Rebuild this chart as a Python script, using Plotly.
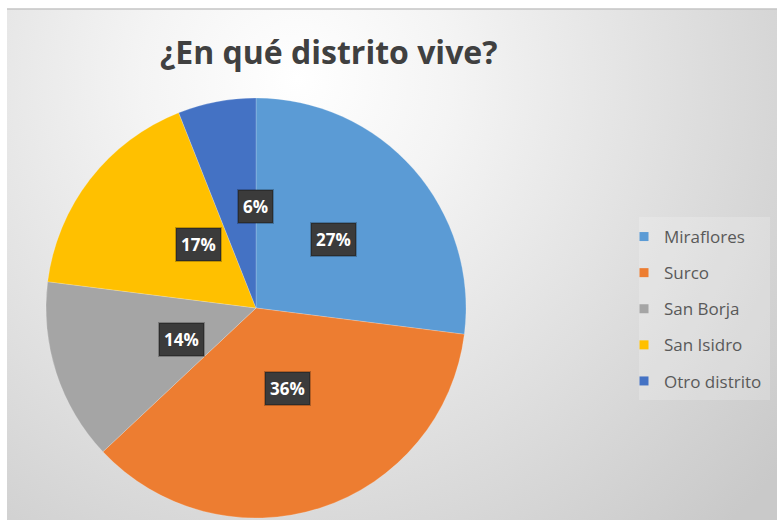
import math, base64
import plotly.graph_objects as go

categories = ["Miraflores", "Surco", "San Borja", "San Isidro", "Otro distrito"]
values = [27, 36, 14, 17, 6]
colors = ["#5B9BD5", "#ED7D31", "#A5A5A5", "#FFC000", "#4472C4"]
title_text = "¿En qué distrito vive?"

W, H = 777, 525
# pie placement (pixels)
PCX, PCY, PR = 256, 308, 210
dom_x = [(PCX - PR) / W, (PCX + PR) / W]
dom_y = [1 - (PCY + PR) / H, 1 - (PCY - PR) / H]

fig = go.Figure()
fig.add_trace(go.Pie(
    labels=categories, values=values, sort=False, direction="clockwise",
    rotation=0, marker=dict(colors=colors, line=dict(color="rgba(255,255,255,0.4)", width=0.5)),
    textinfo="none", showlegend=False, domain=dict(x=dom_x, y=dom_y),
    hovertemplate="%{label}: %{percent}<extra></extra>",
))

# legend via placeholder traces (spaced groups)
for cat, col in zip(categories, colors):
    fig.add_trace(go.Scatter(
        x=[None], y=[None], mode="markers", name=cat, legendgroup=cat,
        marker=dict(symbol="square", size=9, color=col), showlegend=True,
    ))

# percent labels in dark boxes, placed at slice mid-angles computed from data
total = sum(values)
cum = 0
annotations = []
for v in values:
    mid = (cum + v / 2) / total * 2 * math.pi
    cum += v
    px = PCX + 0.49 * PR * math.sin(mid)
    py = PCY - 0.49 * PR * math.cos(mid)
    pct = f"{round(v / total * 100)}%"
    annotations.append(dict(
        x=px / W, y=1 - py / H, xref="paper", yref="paper",
        text=f"<b>{pct}</b>", showarrow=False,
        font=dict(family="Open Sans", size=17, color="#ffffff"),
        bgcolor="#3b3b3b", bordercolor="rgba(0,0,0,0.25)", borderwidth=2, borderpad=4,
    ))

annotations.append(dict(
    x=329 / W, y=1 - 51 / H, xref="paper", yref="paper",
    text=f"<b>{title_text}</b>", showarrow=False,
    font=dict(family="Open Sans", size=32, color="#404040"),
    xanchor="center", yanchor="middle",
))

svg = (
    "<svg xmlns='http://www.w3.org/2000/svg' width='770' height='511'>"
    "<defs><radialGradient id='g' cx='290' cy='70' r='620' gradientUnits='userSpaceOnUse'>"
    "<stop offset='0' stop-color='#ffffff'/><stop offset='0.25' stop-color='#f4f4f4'/>"
    "<stop offset='1' stop-color='#c9c9c9'/></radialGradient></defs>"
    "<rect width='770' height='511' fill='url(#g)'/></svg>"
)
src = "data:image/svg+xml;base64," + base64.b64encode(svg.encode()).decode()

fig.update_layout(
    width=W, height=H, margin=dict(l=0, r=0, t=0, b=0),
    paper_bgcolor="#ffffff", plot_bgcolor="rgba(0,0,0,0)",
    xaxis=dict(visible=False), yaxis=dict(visible=False),
    images=[dict(source=src, xref="paper", yref="paper", x=7 / W, y=1 - 9 / H,
                 sizex=(W - 7) / W, sizey=(520 - 9) / H, sizing="stretch",
                 xanchor="left", yanchor="top", layer="below")],
    shapes=[
        dict(type="line", xref="paper", yref="paper", x0=7 / W, x1=1,
             y0=1 - 9 / H, y1=1 - 9 / H, line=dict(color="#c4c4c4", width=1.5)),
        dict(type="rect", xref="paper", yref="paper", x0=639 / W, x1=770 / W,
             y0=1 - 400 / H, y1=1 - 217 / H, fillcolor="rgba(255,255,255,0.2)",
             line=dict(width=0), layer="below"),
    ],
    annotations=annotations,
    legend=dict(x=624 / W, y=1 - 219 / H, xanchor="left", yanchor="top",
                font=dict(family="Open Sans", size=17, color="#595959"),
                tracegroupgap=11, bgcolor="rgba(0,0,0,0)",
                itemclick=False, itemdoubleclick=False),
    hovermode="closest",
)

fig.write_html("out.html", config={"displayModeBar": False},
               post_script="document.body.style.margin='0';")
